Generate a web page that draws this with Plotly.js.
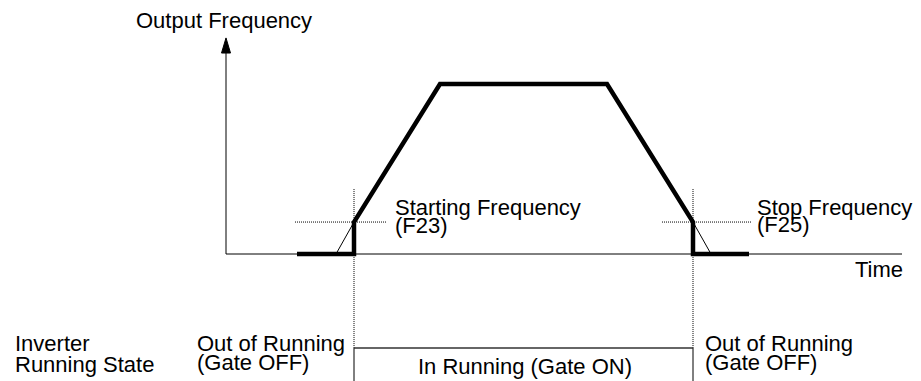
<!DOCTYPE html>
<html>
<head>
<meta charset="utf-8">
<script src="https://cdn.plot.ly/plotly-3.0.1.min.js"></script>
<style>
  html, body { margin: 0; padding: 0; background: #fff; }
  #chart { width: 921px; height: 381px; }
</style>
</head>
<body>
<div id="chart"></div>
<script>
// time in arbitrary units, output frequency in % of max
let freq_t = [7.1, 12.8, 12.8, 21.4, 38.1, 46.7, 46.7, 52.3];
let freq_f = [0, 0, 18.8, 100, 100, 18.8, 0, 0];

// thin lines: ramps continued down to zero
let accel_ext_t = [11.0, 12.8];
let accel_ext_f = [0, 18.8];
let decel_ext_t = [46.7, 48.5];
let decel_ext_f = [18.8, 0];

let start_freq = 18.8;   // F23
let stop_freq = 18.8;    // F25
let run_on = 12.8;
let run_off = 46.7;
let start_guide_t = [6.9, 16.1];
let stop_guide_t = [43.6, 52.6];
let guide_top = 38.2;

let time_end = 67.6;
let freq_arrow_base = 118.2;
let freq_arrow_tip = 127.1;

// running state (gate on / off levels)
let gate_on_level = -55.3;
let gate_off_level = -80;

const FONT = "Liberation Sans, Arial, sans-serif";

function dotted(x, y) {
    return {x: x, y: y, type: 'scatter', mode: 'lines', hoverinfo: 'skip',
            line: {color: '#000', width: 1, dash: '1px,1px'}};
}

function thin(x, y, w, color) {
    return {x: x, y: y, type: 'scatter', mode: 'lines', hoverinfo: 'skip',
            line: {color: color || '#000', width: w || 1}};
}

function label(text, x, y, anchor) {
    return {text: text, x: x, y: y, xref: 'x', yref: 'y', showarrow: false,
            xanchor: anchor || 'left', yanchor: 'middle',
            font: {family: FONT, size: 22, color: '#000'}};
}

function paintChart() {
    let traces = [
        dotted([run_on, run_on, null, run_off, run_off],
               [guide_top, gate_on_level, null, guide_top, gate_on_level]),
        dotted(start_guide_t, [start_freq, start_freq]),
        dotted(stop_guide_t, [stop_freq, stop_freq]),
        thin(accel_ext_t, accel_ext_f),
        thin(decel_ext_t, decel_ext_f),
        // axes
        thin([0, time_end], [0, 0]),
        thin([0, 0], [0, freq_arrow_base]),
        {x: [-0.45, 0, 0.45, -0.45], y: [freq_arrow_base, freq_arrow_tip, freq_arrow_base, freq_arrow_base],
         type: 'scatter', mode: 'lines', fill: 'toself', fillcolor: '#000', hoverinfo: 'skip',
         line: {color: '#000', width: 1}},
        // running state box
        thin([run_on, run_on], [gate_off_level, gate_on_level]),
        thin([run_off, run_off], [gate_off_level, gate_on_level]),
        thin([run_on, run_off], [gate_on_level, gate_on_level], 1.4, '#333'),
        // output frequency
        {x: freq_t, y: freq_f, type: 'scatter', mode: 'lines', hoverinfo: 'skip',
         line: {color: '#000', width: 4.5, shape: 'linear'}}
    ];

    let layout = {
        width: 921,
        height: 381,
        margin: {l: 0, r: 0, t: 0, b: 0},
        paper_bgcolor: '#fff',
        plot_bgcolor: '#fff',
        showlegend: false,
        xaxis: {range: [-22.6, 69.5], visible: false, fixedrange: true},
        yaxis: {range: [-74.7, 149.4], visible: false, fixedrange: true},
        annotations: [
            label('Output Frequency', -9.2, 137.6),
            label('Starting Frequency', 16.7, 27.6),
            label('(F23)', 16.7, 16.5),
            label('Stop Frequency', 52.9, 27.1),
            label('(F25)', 52.9, 17.1),
            label('Time', 67.9, -9.4, 'right'),
            label('Inverter', -21.3, -52.9),
            label('Running State', -21.3, -64.7),
            label('Out of Running', -3.1, -52.4),
            label('(Gate OFF)', -3.1, -64.1),
            label('Out of Running', 47.7, -52.4),
            label('(Gate OFF)', 47.7, -64.1),
            label('In Running (Gate ON)', 29.9, -65.9, 'center')
        ]
    };

    Plotly.newPlot('chart', traces, layout, {displayModeBar: false, staticPlot: true});
}

paintChart();
</script>
</body>
</html>
